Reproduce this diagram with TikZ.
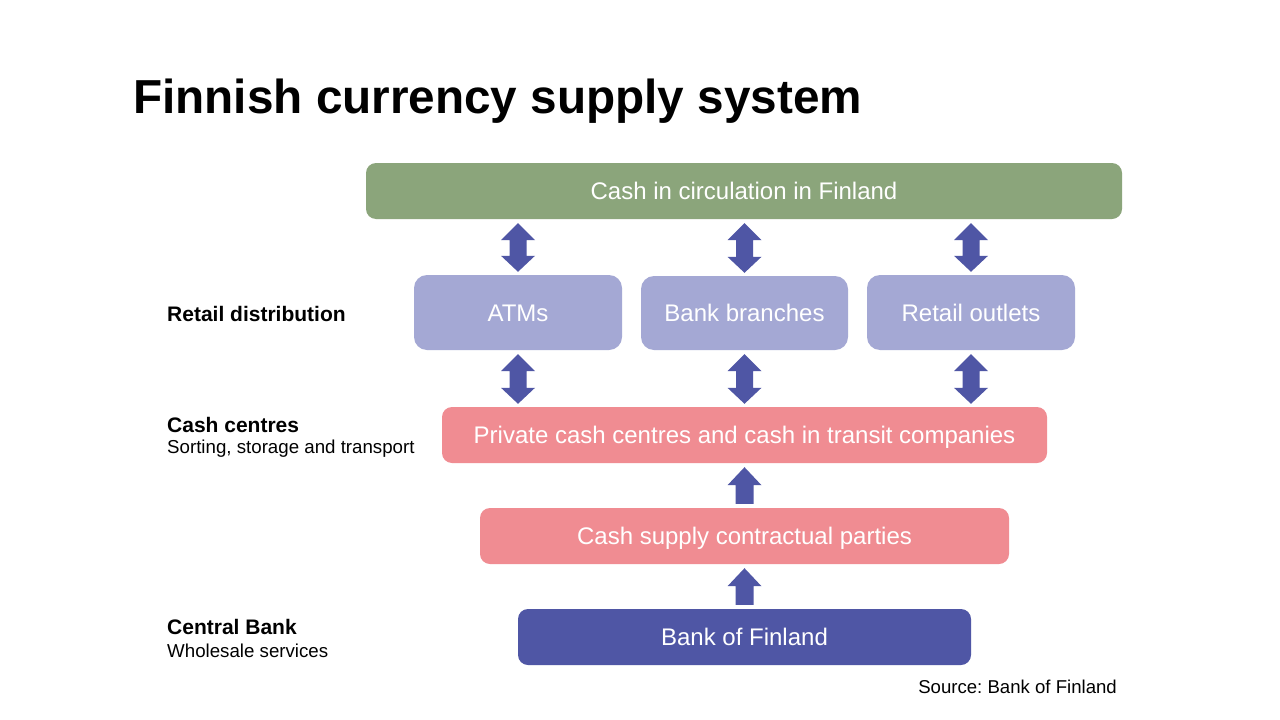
\documentclass[tikz,border=0pt]{standalone}
\usepackage{fontspec}
\setmainfont{Liberation Sans}
\usetikzlibrary{calc}
\frenchspacing
\definecolor{cgreen}{RGB}{139,165,123}
\definecolor{clav}{RGB}{164,168,212}
\definecolor{cpink}{RGB}{240,140,146}
\definecolor{cblue}{RGB}{79,86,165}
\tikzset{
  box/.style={rectangle,inner sep=0pt,text=white,text height=17pt,text depth=0pt,font=\fontsize{24}{28}\selectfont},
  wide/.style={box,minimum height=56pt,rounded corners=10pt},
  small/.style={box,rounded corners=13pt},
  lab/.style={anchor=base west,inner sep=0pt,font=\bfseries\fontsize{21}{25}\selectfont},
  sublab/.style={anchor=base west,inner sep=0pt,font=\fontsize{18.7}{22}\selectfont},
  arr/.style={fill=cblue}
}
% double block arrow: #1 node giving x, #2 upper node, #3 lower node
\newcommand\dblarr[3]{%
  \fill[arr] let \p0=(#1.center), \p1=(#2.south), \p2=(#3.north) in
    (\x0,\y1-4pt) -- (\x0+17pt,\y1-21pt) -- (\x0+8.5pt,\y1-21pt) --
    (\x0+8.5pt,\y2+19pt) -- (\x0+17pt,\y2+19pt) -- (\x0,\y2+3pt) --
    (\x0-17pt,\y2+19pt) -- (\x0-8.5pt,\y2+19pt) -- (\x0-8.5pt,\y1-21pt) --
    (\x0-17pt,\y1-21pt) -- cycle;}
% single block arrow pointing up: #1 upper node, #2 lower node
\newcommand\uparr[2]{%
  \fill[arr] let \p1=(#1.south), \p2=(#2.north) in
    (\x2,\y1-4pt) -- (\x2+17pt,\y1-22pt) -- (\x2+9pt,\y1-22pt) --
    (\x2+9pt,\y2+4pt) -- (\x2-9pt,\y2+4pt) -- (\x2-9pt,\y1-22pt) --
    (\x2-17pt,\y1-22pt) -- cycle;}
\begin{document}
\begin{tikzpicture}[x=1pt,y=-1pt]
\useasboundingbox[fill=white] (0,0) rectangle (1280,720);
\node[anchor=base west,inner sep=0pt,font=\bfseries\fontsize{47.7}{56}\selectfont] (title) at (133,113) {Finnish currency supply system};

\node[wide,fill=cgreen,minimum width=756pt] (top) at (744,191) {Cash in circulation in Finland};
\node[small,fill=clav,minimum width=208pt,minimum height=75pt] (atm) at (518,312.5) {ATMs};
\node[small,fill=clav,minimum width=207pt,minimum height=74pt] (bank) at (744.5,313) {Bank branches};
\node[small,fill=clav,minimum width=208pt,minimum height=75pt] (retail) at (971,312.5) {Retail outlets};
\node[wide,fill=cpink,minimum width=605pt] (priv) at (744.5,435) {Private cash centres and cash in transit companies};
\node[wide,fill=cpink,minimum width=529pt] (supply) at (744.5,536) {Cash supply contractual parties};
\node[wide,fill=cblue,minimum width=453pt] (bof) at (744.5,637) {Bank of Finland};

\dblarr{atm}{top}{atm}
\dblarr{bank}{top}{bank}
\dblarr{retail}{top}{retail}
\dblarr{atm}{atm}{priv}
\dblarr{bank}{bank}{priv}
\dblarr{retail}{retail}{priv}
\uparr{priv}{supply}
\uparr{supply}{bof}

\node[lab] (l1) at (167,321) {Retail distribution};
\node[lab] (l2) at (167,432) {Cash centres};
\node[sublab] (l2b) at (167,453) {Sorting, storage and transport};
\node[lab] (l3) at (167,634) {Central Bank};
\node[sublab] (l3b) at (167,657) {Wholesale services};
\node[anchor=base east,inner sep=0pt,font=\fontsize{18.6}{22}\selectfont] (src) at (1117,693) {Source: Bank of Finland};
\end{tikzpicture}
\end{document}
